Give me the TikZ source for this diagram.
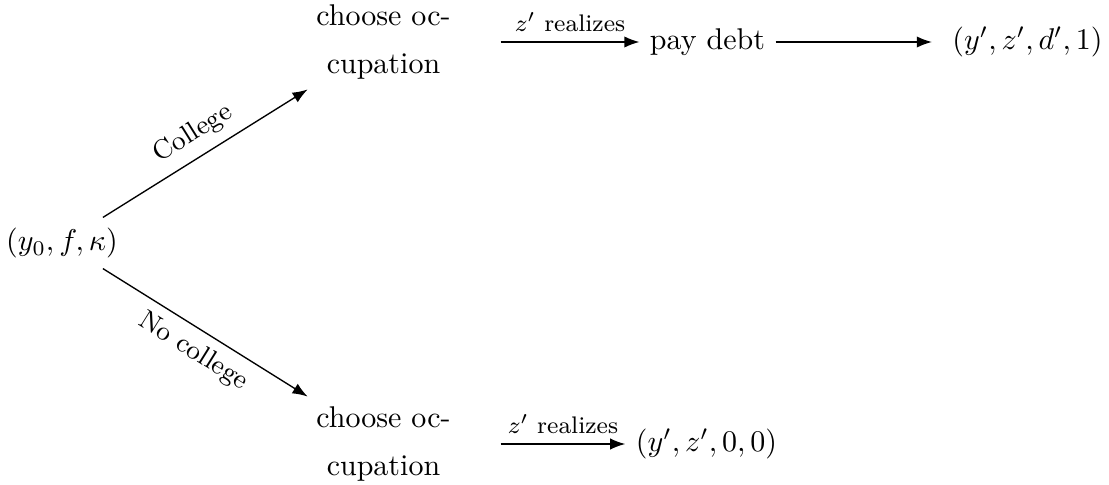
\documentclass[tikz,border=0pt]{standalone}
\usetikzlibrary{arrows.meta}
\begin{document}
\begin{tikzpicture}[x=0.33333pt,y=-0.33333pt,
  plain/.style={inner sep=3.33pt},
  occ/.style={inner sep=3.33pt,text width=71pt,align=center},
  arr/.style={-{Latex},line width=0.45pt},
  lab/.style={font=\small},
  zlab/.style={font=\footnotesize}]
\useasboundingbox (0,0) rectangle (1109,485);
\node[plain] (s) at (62,243) {$(y_0,f,\kappa)$};
\node[occ] (c1) at (383.5,42) {choose oc-\\[3.7pt]cupation};
\node[occ] (c2) at (383.5,444) {choose oc-\\[3.7pt]cupation};
\node[plain] (p) at (707.5,42) {pay debt};
\node[plain] (e1) at (1027.5,42) {$(y',z',d',1)$};
\node[plain] (e2) at (706.5,444) {$(y',z',0,0)$};
\draw[arr] (s) -- node[lab,sloped,above] {College} (c1);
\draw[arr] (s) -- node[lab,sloped,below] {No college} (c2);
\draw[arr] (c1) -- node[zlab,above] {$z'$ realizes} (p);
\draw[arr,shorten >=3.3pt] (p) -- (e1);
\draw[arr] (c2) -- node[zlab,above] {$z'$ realizes} (e2);
\end{tikzpicture}
\end{document}
